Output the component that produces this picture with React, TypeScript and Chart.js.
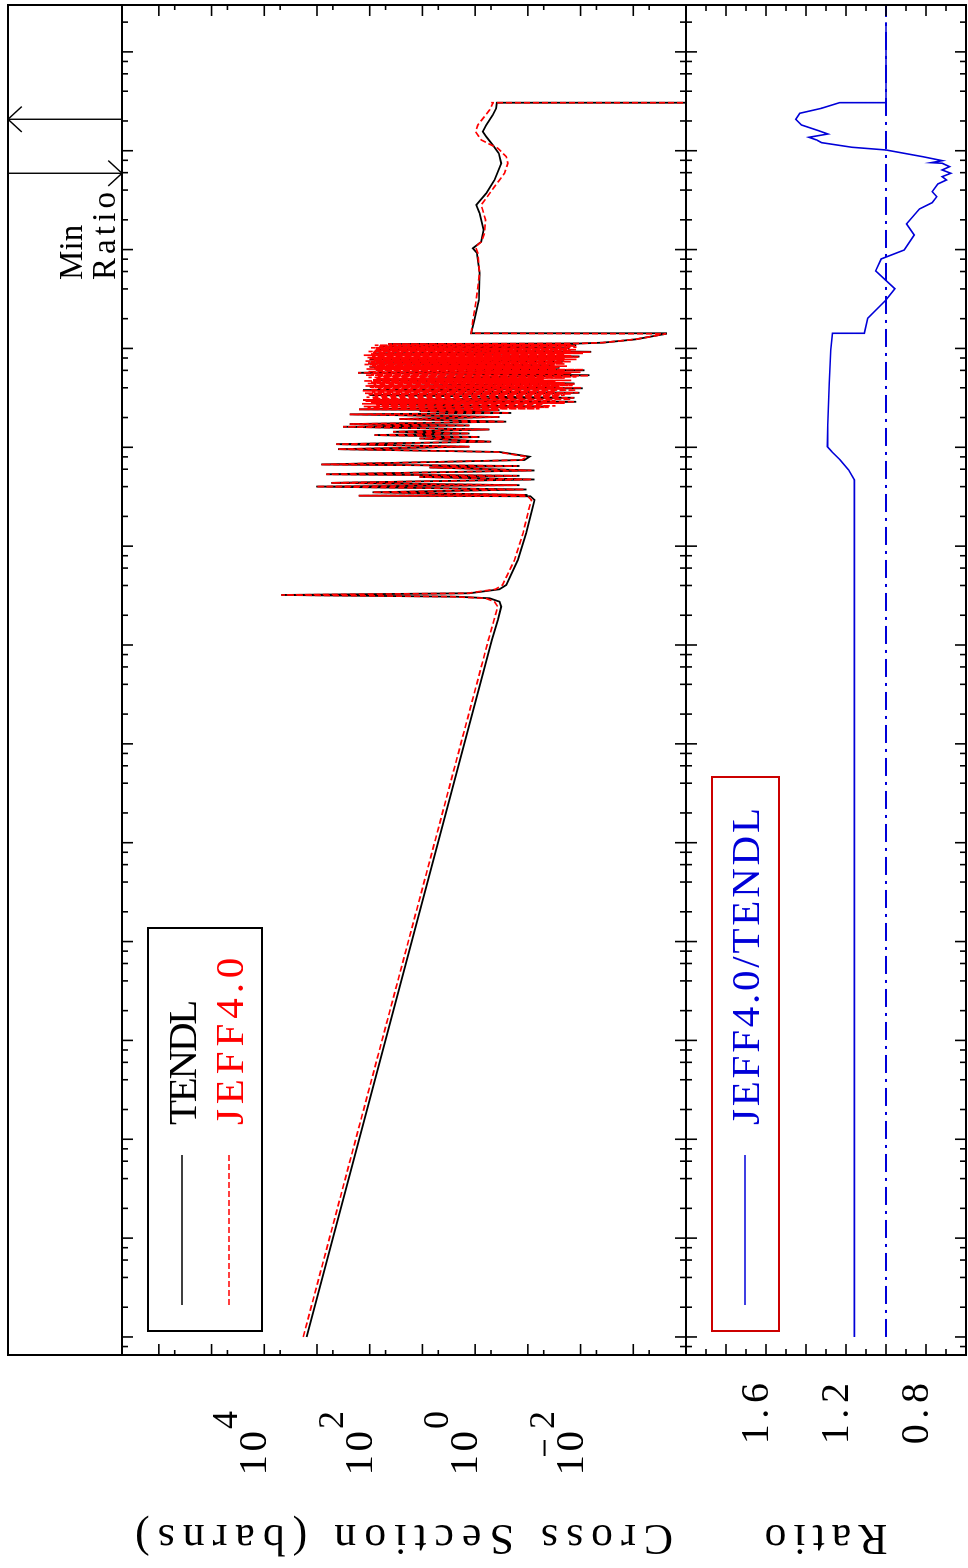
import React, { useEffect, useRef } from 'react';
import { Chart, registerables } from 'chart.js';

Chart.register(...registerables);

// ---------------- axis ranges ----------------
const ENERGY_MIN = 6.57e-6; // eV
const ENERGY_MAX = 2.98e8; // eV
const XS_MIN = 1e-4; // barns
const XS_MAX = 5e6;
const RATIO_MIN = 0.6;
const RATIO_MAX = 2.0;

// ---------------- tick definitions ----------------
const energyDecades = [-6, -5, -4, -3, -2, -1, 0, 1, 2, 3, 4, 5, 6, 7, 8];
const energyMinor = [2, 4, 6, 8];
const xsDecades = [-4, -3, -2, -1, 0, 1, 2, 3, 4, 5, 6];
const xsMinor = [5];
const ratioTicks = [0.7, 0.8, 0.9, 1.0, 1.1, 1.2, 1.3, 1.4, 1.5, 1.6, 1.7, 1.8, 1.9];
const ratioMajor = [0.8, 1.0, 1.2, 1.4, 1.6, 1.8];
const xsLabelExponents = [4, 2, 0, -2];
const ratioLabels = [1.6, 1.2, 0.8];

// ---------------- text ----------------
const seriesA = 'TENDL';
const seriesB = 'JEFF4.0';
const ratioName = 'JEFF4.0/TENDL';
const xsTitle = 'Cross Section (barns)';
const ratioTitle = 'Ratio';
const markerText = ['Min', 'Ratio'];

// ---------------- data: low energy (1/v + first resonance) ----------------
const lowE = [1e-5, 112.4, 179.2, 244.2, 274.4, 297.0, 308.3, 320.7, 333.7, 366.2, 404.8, 724.7, 1350, 2507, 2931];
const tendlLow = [1570, 0.48, 0.372, 0.32, 0.345, 0.533, 2.28, 4740, 1.277, 0.345, 0.257, 0.155, 0.1075, 0.0806, 0.0748];
const jeffLow = [1825, 0.56, 0.4385, 0.372, 0.4285, 0.635, 2.8, 4740, 1.394, 0.4106, 0.3024, 0.179, 0.1236, 0.0931, 0.0853];

// ---------------- data: resolved resonance region (TENDL) ----------------
const tendlResE = [3195, 3240, 3294, 3507, 3744, 4006, 4138, 4366, 4726, 5010, 5151, 5334, 5829, 6250, 6471, 6702, 7439, 8036, 8971, 9572,
  10146, 10755, 11400, 12281, 12718, 13292, 13796, 14355, 15145, 16131, 16625, 17177, 18165, 19345, 20266, 21528, 22243, 23302, 23741, 24188,
  25873, 27361, 28870, 30035, 31696, 33744, 35599, 37904, 39528, 41623, 44216, 47863, 50843, 53643, 56727, 60124, 62696, 63730, 65229, 67553,
  70609, 73461, 77506, 82922, 89147, 92536, 97860, 100626, 104688, 107152, 110708, 112250, 114366, 123780, 140735];
const tendlRes = [0.0891, 162, 0.1016, 88.1, 0.1061, 1028, 0.1439, 535, 0.0748, 11.3, 0.1439, 665, 0.0748, 7.32, 0.1439, 827, 0.1159, 0.0931, 0.345, 401,
  1.277, 430, 0.495, 11.3, 0.826, 80.7, 1.277, 36.3, 0.533, 322, 1.277, 240, 0.257, 27.1, 0.345, 240, 0.207, 11.3, 0.345, 160,
  0.0483, 75, 0.0121, 134.6, 0.01306, 100.5, 0.0105, 134.6, 0.00908, 100.5, 0.01306, 86.9, 1.277, 0.00678, 167.5, 0.00843, 80.7, 0.0251, 100.5, 0.0313,
  108.2, 0.0218, 100.5, 0.0105, 86.9, 0.0063, 75, 0.01625, 64.9, 0.0121, 45.2, 0.0105, 0.00379, 0.000883, 0.000238];

// ---------------- data: resolved resonance region (JEFF, denser) ----------------
const jeffResE = [3195, 3240, 3294, 3507, 3744, 4006, 4138, 4366, 4726, 5010, 5151, 5334, 5829, 6250, 6471, 6702, 7439, 8036, 8971, 9572,
  10146, 10755, 11400, 12281, 12718, 13292, 13796, 14355, 15145, 16131, 16625, 17177, 18165, 19345, 20266, 21528, 22243, 23302, 23741,
  24188, 24560, 24950, 25400, 25870, 26250, 26700, 27100, 27550, 27980, 28400, 28870, 29300, 29700, 30100, 30600, 31050, 31650, 32100, 32600,
  33100, 33700, 34200, 34700, 35200, 35650, 36200, 36700, 37300, 37900, 38400, 38950, 39500, 40000, 40600, 41150, 41700, 42300, 42900, 43600,
  44200, 44800, 45500, 46200, 46900, 47500, 48100, 48800, 49500, 50200, 50900, 51600, 52300, 53000, 53700, 54400, 55200, 56000, 56700, 57500,
  58300, 59200, 60100, 61000, 61900, 62700, 63600, 64500, 65300, 66200, 67100, 67900, 68800, 69700, 70600, 71600, 72600, 73500, 74500, 75500,
  76500, 77500, 78600, 79700, 80800, 81900, 83000, 84200, 85400, 86600, 87900, 89200, 90500, 91800, 93100, 94400, 95800, 97200, 98600, 100000,
  101500, 103000, 104600, 106200, 107700, 109200, 110700, 112250, 114366, 123780, 140735];
const jeffRes = [0.1, 162, 0.114, 88.1, 0.119, 1028, 0.161, 535, 0.085, 11.3, 0.161, 665, 0.085, 7.32, 0.161, 827, 0.13, 0.105, 0.38, 401,
  1.3, 430, 0.52, 11.3, 0.85, 80.7, 1.3, 36.3, 0.55, 322, 1.3, 240, 0.27, 27.1, 0.36, 240, 0.22, 11.3, 0.36,
  160, 0.06, 110, 0.04, 130, 0.03, 75, 0.05, 140, 0.02, 95, 0.0125, 120, 0.03, 134, 0.015, 90, 0.0135, 115, 0.025,
  80, 0.02, 105, 0.015, 125, 0.011, 90, 0.03, 135, 0.012, 100, 0.02, 70, 0.0095, 100, 0.025, 120, 0.014, 85, 0.013,
  110, 0.02, 95, 0.03, 130, 0.015, 87, 0.05, 75, 0.02, 105, 0.012, 70, 0.007, 120, 0.02, 95, 0.015, 167, 0.01,
  110, 0.02, 80, 0.0088, 115, 0.03, 81, 0.026, 100, 0.018, 90, 0.032, 125, 0.02, 108, 0.022, 95, 0.015, 120, 0.02,
  85, 0.012, 100, 0.02, 110, 0.011, 90, 0.015, 130, 0.02, 95, 0.009, 87, 0.0065, 105, 0.015, 80, 0.012, 75, 0.017,
  95, 0.012, 65, 0.0125, 80, 0.015, 45, 0.011, 0.0039, 0.0009, 0.000238];

// ---------------- data: fast region ----------------
const tendlHighE = [142365, 1.94e5, 3.09e5, 5.8e5, 9.24e5, 1.031e6, 1.2e6, 1.58e6, 2.33e6, 2.83e6, 3.71e6, 5.06e6, 7.47e6, 9.43e6, 1.144e7, 1.387e7, 1.56e7, 1.82e7, 2.3e7, 2.69e7, 3.06e7, 3.06e7];
const tendlHigh = [1.186, 1.03, 0.851, 0.825, 0.929, 1.105, 0.766, 0.693, 0.825, 0.953, 0.616, 0.429, 0.32, 0.356, 0.462, 0.616, 0.715, 0.616, 0.462, 0.398, 0.388, 1e-4];
const jeffHighE = [142365, 1.94e5, 3.09e5, 5.76e5, 9.18e5, 1.07e6, 1.2e6, 1.46e6, 1.99e6, 2.83e6, 4.33e6, 5.92e6, 7.47e6, 8.71e6, 1.06e7, 1.285e7, 1.56e7, 1.82e7, 2.58e7, 3.02e7, 3.06e7, 3.06e7];
const jeffHigh = [1.186, 1.105, 0.953, 0.825, 0.889, 0.983, 0.766, 0.664, 0.635, 0.766, 0.429, 0.277, 0.24, 0.257, 0.372, 0.766, 0.983, 0.889, 0.533, 0.462, 0.47, 1e-4];

// ---------------- data: ratio ----------------
const ratioE = [1e-5, 4671, 5897, 7439, 9031, 10146, 16818, 44420, 96497, 142365, 142365, 2.02e5, 3.09e5, 4.02e5, 6.08e5, 8.04e5, 9.91e5,
  1.405e6, 1.816e6, 2.575e6, 2.983e6, 3.43e6, 3.854e6, 4.61e6, 5.06e6, 5.465e6, 5.916e6, 6.39e6, 6.9e6, 7.47e6, 7.574e6, 7.935e6, 8.71e6,
  1.018e7, 1.084e7, 1.207e7, 1.285e7, 1.368e7, 1.477e7, 1.596e7, 1.822e7, 2.081e7, 2.393e7, 2.689e7, 3.064e7, 3.064e7, 2e8];
const ratioVal = [1.158, 1.158, 1.187, 1.229, 1.271, 1.293, 1.291, 1.284, 1.276, 1.268, 1.108, 1.091, 1.0, 0.956, 1.052, 1.024, 0.909,
  0.859, 0.8975, 0.833, 0.769, 0.746, 0.769, 0.741, 0.698, 0.719, 0.676, 0.719, 0.682, 0.719, 0.774, 0.719, 0.817,
  1.0, 1.17, 1.322, 1.347, 1.385, 1.291, 1.338, 1.423, 1.451, 1.431, 1.322, 1.232, 1.0, 1.0];
const unityE = [1e-5, 2.98e8];
const unityVal = [1, 1];

// ---------------- styling ----------------
const SERIF = '"Liberation Serif", "DejaVu Serif", serif';
const BLACK = '#000000';
const RED = '#ff0000';
const BLUE = '#0000d8';
const BOXRED = '#cc0000';

const pts = (xs: number[], ys: number[]) => xs.map((x, i) => ({ x, y: ys[i] }));

// draws a string with an even per-character advance (Hershey-like spacing)
function fillSpaced(ctx: any, text: string, x: number, y: number, advance: number, align: string) {
  ctx.letterSpacing = '0px';
  const natural = ctx.measureText(text).width;
  const ls = (advance * text.length - natural) / text.length;
  ctx.letterSpacing = `${ls}px`;
  const ink = advance * text.length - ls;
  let sx = x;
  if (align === 'right') sx = x - ink;
  else if (align === 'center') sx = x - ink / 2;
  ctx.textAlign = 'left';
  ctx.fillText(text, sx, y);
  ctx.letterSpacing = '0px';
}

const decoPlugin = {
  id: 'deco',
  afterDraw(chart: any) {
    const ctx: any = chart.ctx;
    const xs = chart.scales.x;
    const ys = chart.scales.ycs;
    const yr = chart.scales.yr;
    const L = xs.left, R = xs.right, T = ys.top, M = ys.bottom, B = yr.bottom;
    const FRAME_TOP = 8;
    const seg = (x1: number, y1: number, x2: number, y2: number) => {
      ctx.beginPath();
      ctx.moveTo(x1, y1);
      ctx.lineTo(x2, y2);
      ctx.stroke();
    };
    ctx.save();
    ctx.setLineDash([]);
    ctx.strokeStyle = BLACK;
    ctx.fillStyle = BLACK;
    ctx.textBaseline = 'alphabetic';
    ctx.lineWidth = 2;
    // frame
    ctx.strokeRect(L, FRAME_TOP, R - L, B - FRAME_TOP);
    seg(L, T, R, T);
    seg(L, M, R, M);

    ctx.lineWidth = 1.6;
    // energy ticks
    for (const d of energyDecades) {
      for (const k of [1, ...energyMinor]) {
        const e = k * Math.pow(10, d);
        if (e < xs.min || e > xs.max) continue;
        const u = xs.getPixelForValue(e);
        const len = k === 1 ? 11 : 6;
        seg(u, T, u, T + len);
        seg(u, M - len, u, M + len);
        seg(u, B - len, u, B);
      }
    }
    // cross-section ticks
    for (const d of xsDecades) {
      for (const k of [1, ...xsMinor]) {
        const s = k * Math.pow(10, d);
        if (s <= ys.min || s >= ys.max) continue;
        const v = ys.getPixelForValue(s);
        const len = k === 1 ? 11 : 5;
        seg(L, v, L + len, v);
        seg(R - len, v, R, v);
      }
    }
    // ratio ticks
    for (const r of ratioTicks) {
      const v = yr.getPixelForValue(r);
      const len = ratioMajor.some((m) => Math.abs(m - r) < 1e-6) ? 11 : 6;
      seg(L, v, L + len, v);
      seg(R - len, v, R, v);
    }

    // cross-section labels
    for (const n of xsLabelExponents) {
      const v = ys.getPixelForValue(Math.pow(10, n));
      ctx.font = `41px ${SERIF}`;
      fillSpaced(ctx, '10', 137, v + 2, 24, 'right');
      ctx.font = `36px ${SERIF}`;
      fillSpaced(ctx, String(Math.abs(n)), 139, v - 27, 20, 'left');
      if (n < 0) {
        ctx.lineWidth = 2;
        seg(112, v - 36, 128, v - 36);
        ctx.lineWidth = 1.6;
      }
    }
    // ratio labels
    ctx.font = `40px ${SERIF}`;
    for (const r of ratioLabels) {
      const v = yr.getPixelForValue(r);
      fillSpaced(ctx, r.toFixed(1), 185, v + 2, 22.3, 'right');
    }
    // axis titles
    ctx.font = `44px ${SERIF}`;
    const title = (text: string, vc: number) => {
      ctx.save();
      ctx.translate(43, vc);
      ctx.rotate(-Math.PI / 2);
      fillSpaced(ctx, text, 0, 0, 26, 'center');
      ctx.restore();
    };
    title(xsTitle, (T + M) / 2);
    title(ratioTitle, (M + B) / 2);

    // legend 1
    ctx.lineWidth = 2;
    ctx.strokeStyle = BLACK;
    ctx.strokeRect(237, 148, 403, 114);
    ctx.lineWidth = 1.6;
    seg(263, 182, 413, 182);
    ctx.strokeStyle = RED;
    ctx.setLineDash([6, 3]);
    seg(263, 229, 413, 229);
    ctx.setLineDash([]);
    ctx.font = `41px ${SERIF}`;
    ctx.fillStyle = BLACK;
    fillSpaced(ctx, seriesA, 443, 196, 24.6, 'left');
    ctx.fillStyle = RED;
    fillSpaced(ctx, seriesB, 443, 243, 24.6, 'left');

    // legend 2
    ctx.lineWidth = 2;
    ctx.strokeStyle = BOXRED;
    ctx.strokeRect(237, 712, 554, 67);
    ctx.strokeStyle = BLUE;
    ctx.lineWidth = 1.6;
    seg(263, 745, 413, 745);
    ctx.fillStyle = BLUE;
    fillSpaced(ctx, ratioName, 443, 759, 24.6, 'left');

    // min / max ratio markers
    let iMax = 0, iMin = 0;
    for (let i = 0; i < ratioVal.length; i++) {
      if (ratioVal[i] > ratioVal[iMax]) iMax = i;
      if (ratioVal[i] < ratioVal[iMin]) iMin = i;
    }
    ctx.strokeStyle = BLACK;
    ctx.fillStyle = BLACK;
    ctx.lineWidth = 1.4;
    const uMax = xs.getPixelForValue(ratioE[iMax]);
    seg(uMax, T, uMax, FRAME_TOP);
    seg(uMax - 12.7, FRAME_TOP + 13.7, uMax, FRAME_TOP);
    seg(uMax + 12.7, FRAME_TOP + 13.7, uMax, FRAME_TOP);
    const uMin = xs.getPixelForValue(ratioE[iMin]);
    seg(uMin, FRAME_TOP, uMin, T);
    seg(uMin - 12.7, T - 13.7, uMin, T);
    seg(uMin + 12.7, T - 13.7, uMin, T);
    ctx.font = `33px ${SERIF}`;
    fillSpaced(ctx, markerText[0], 1288, 82, 18.4, 'left');
    fillSpaced(ctx, markerText[1], 1288, 115, 18.4, 'left');

    ctx.restore();
  },
};

export default function App() {
  const ref = useRef<HTMLCanvasElement | null>(null);
  useEffect(() => {
    if (!ref.current) return;
    const chart = new Chart(ref.current, {
      type: 'line',
      data: {
        datasets: [
          {
            label: seriesB,
            data: [...pts(lowE, jeffLow), ...pts(jeffResE, jeffRes), ...pts(jeffHighE, jeffHigh)],
            yAxisID: 'ycs',
            borderColor: RED,
            borderWidth: 1.7,
            borderDash: [6, 3],
            pointRadius: 0,
            tension: 0,
            order: 0,
          },
          {
            label: seriesA,
            data: [...pts(lowE, tendlLow), ...pts(tendlResE, tendlRes), ...pts(tendlHighE, tendlHigh)],
            yAxisID: 'ycs',
            borderColor: BLACK,
            borderWidth: 1.8,
            pointRadius: 0,
            tension: 0,
            order: 1,
          },
          {
            label: ratioName,
            data: pts(ratioE, ratioVal),
            yAxisID: 'yr',
            borderColor: BLUE,
            borderWidth: 1.6,
            pointRadius: 0,
            tension: 0,
            order: 0,
          },
          {
            label: 'unity',
            data: pts(unityE, unityVal),
            yAxisID: 'yr',
            borderColor: BLUE,
            borderWidth: 2,
            borderDash: [18, 6, 3, 6],
            pointRadius: 0,
            tension: 0,
            order: 1,
          },
        ],
      },
      options: {
        animation: false,
        responsive: false,
        devicePixelRatio: 1,
        events: [],
        parsing: false,
        layout: { padding: { left: 213, right: 5, top: 122, bottom: 2 }, autoPadding: false },
        plugins: { legend: { display: false }, tooltip: { enabled: false }, title: { display: false } },
        scales: {
          x: {
            type: 'logarithmic',
            position: 'bottom',
            min: ENERGY_MIN,
            max: ENERGY_MAX,
            grid: { display: false, drawTicks: false },
            border: { display: false },
            ticks: { display: false },
          },
          yr: {
            type: 'linear',
            position: 'left',
            stack: 'panels',
            stackWeight: 280,
            weight: 1,
            min: RATIO_MIN,
            max: RATIO_MAX,
            grid: { display: false, drawTicks: false },
            border: { display: false },
            ticks: { display: false },
          },
          ycs: {
            type: 'logarithmic',
            position: 'left',
            stack: 'panels',
            stackWeight: 564,
            weight: 2,
            min: XS_MIN,
            max: XS_MAX,
            grid: { display: false, drawTicks: false },
            border: { display: false },
            ticks: { display: false },
          },
        },
      } as any,
      plugins: [decoPlugin],
    });
    return () => chart.destroy();
  }, []);

  return (
    <div style={{ position: 'fixed', left: 0, top: 0, width: 968, height: 1568, overflow: 'hidden', background: '#fff' }}>
      <canvas
        ref={ref}
        width={1568}
        height={968}
        style={{
          position: 'absolute',
          left: 0,
          top: 0,
          width: 1568,
          height: 968,
          transformOrigin: '0 0',
          transform: 'translateY(1568px) rotate(-90deg)',
        }}
      />
    </div>
  );
}
